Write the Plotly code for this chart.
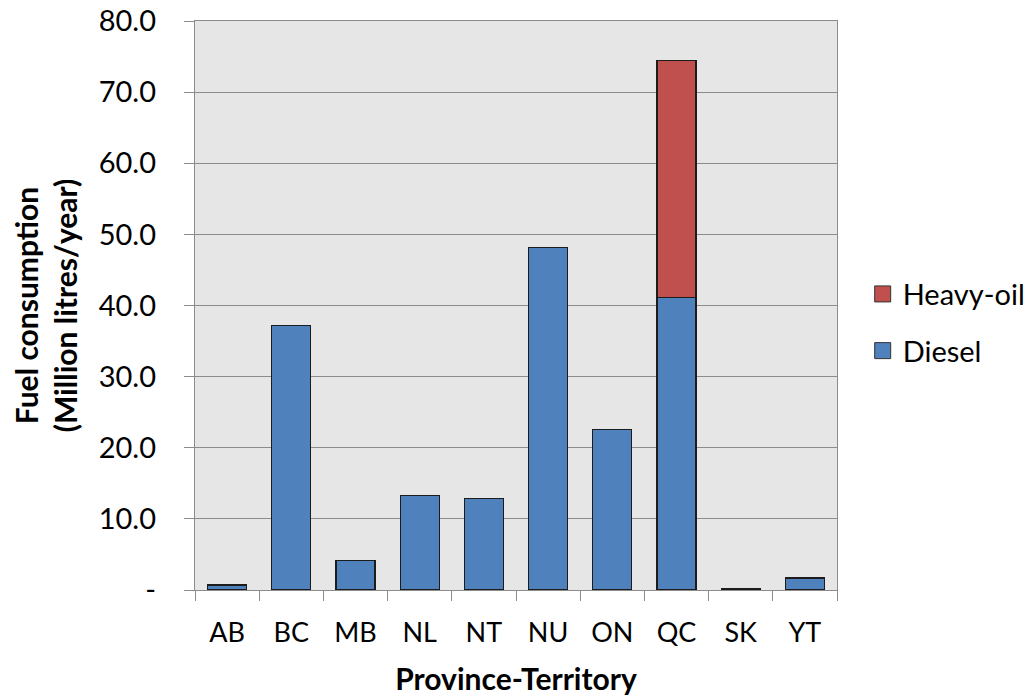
import plotly.graph_objects as go

# Fuel consumption by province / territory (million litres per year)
provinces = ["AB", "BC", "MB", "NL", "NT", "NU", "ON", "QC", "SK", "YT"]
diesel = [0.7, 37.2, 4.1, 13.3, 12.9, 48.2, 22.6, 41.1, 0.2, 1.7]
heavy_oil = [0, 0, 0, 0, 0, 0, 0, 33.4, 0, 0]

y_ticks = [0, 10, 20, 30, 40, 50, 60, 70, 80]
y_tick_text = ["-", "10.0", "20.0", "30.0", "40.0", "50.0", "60.0", "70.0", "80.0"]

DIESEL_COLOR = "#4f81bd"
HEAVY_COLOR = "#c0504d"
OUTLINE = "#1c1c1c"
FONT = "Lato, 'Liberation Sans', Arial, sans-serif"

fig = go.Figure()

fig.add_trace(go.Bar(
    x=provinces, y=diesel, name="Diesel",
    marker=dict(color=DIESEL_COLOR, line=dict(color=OUTLINE, width=1.2)),
    showlegend=False,
))
fig.add_trace(go.Bar(
    x=provinces, y=heavy_oil, name="Heavy-oil",
    marker=dict(color=HEAVY_COLOR, line=dict(color=OUTLINE, width=1.2)),
    showlegend=False,
))

# legend entries with larger square swatches (Heavy-oil listed first)
fig.add_trace(go.Scatter(
    x=[None], y=[None], mode="markers", name="Heavy-oil",
    legendgroup="h",
    marker=dict(symbol="square", size=20, color=HEAVY_COLOR,
                line=dict(color="#333333", width=1)),
))
fig.add_trace(go.Scatter(
    x=[None], y=[None], mode="markers", name="Diesel",
    legendgroup="d",
    marker=dict(symbol="square", size=20, color=DIESEL_COLOR,
                line=dict(color="#333333", width=1)),
))

fig.update_layout(
    width=1032, height=696,
    margin=dict(l=195, r=195, t=21, b=106, autoexpand=False),
    barmode="stack",
    bargap=0.39,
    plot_bgcolor="#e6e6e6",
    paper_bgcolor="white",
    font=dict(family=FONT, size=26, color="#000000"),
    legend=dict(
        x=1.04, y=0.47, xanchor="left", yanchor="middle",
        traceorder="grouped", tracegroupgap=16,
        font=dict(size=29), itemwidth=30,
        bgcolor="rgba(0,0,0,0)",
    ),
    xaxis=dict(
        title=dict(text="<b>Province-Territory</b>", font=dict(size=30), standoff=22),
        showline=True, linecolor="#8c8c8c", linewidth=1.3, mirror=True,
        ticks="outside", tickson="boundaries", ticklen=10, tickcolor="#8c8c8c",
        ticklabelstandoff=18,
        tickfont=dict(size=27),
        showgrid=False,
    ),
    yaxis=dict(
        title=dict(text="<b>Fuel consumption<br>(Million litres/year)</b>",
                   font=dict(size=30), standoff=12),
        range=[0, 80],
        tickvals=y_ticks, ticktext=y_tick_text,
        showline=True, linecolor="#8c8c8c", linewidth=1.3, mirror=True,
        ticks="outside", ticklen=10, tickcolor="#8c8c8c",
        ticklabelstandoff=22,
        tickfont=dict(size=29),
        showgrid=True, gridcolor="#8c8c8c", gridwidth=1.3,
        zeroline=False,
    ),
)

fig.write_html("out.html")
